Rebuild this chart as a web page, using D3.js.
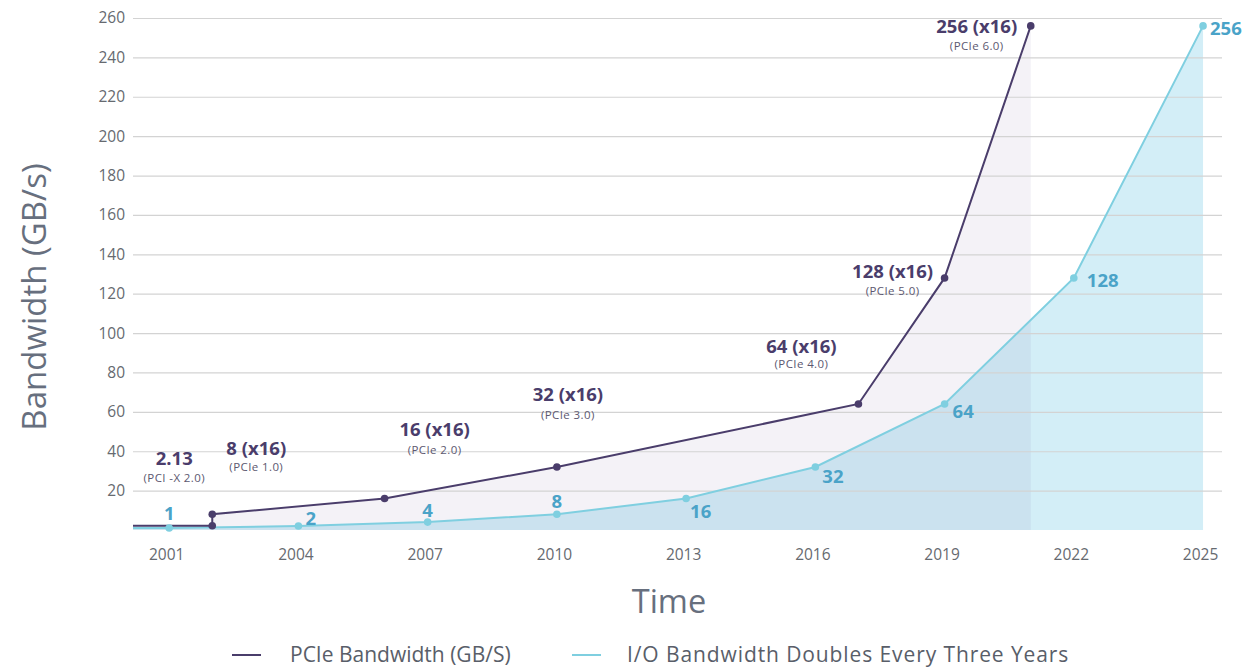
<!DOCTYPE html>
<html>
<head>
<meta charset="utf-8">
<script src="https://cdn.jsdelivr.net/npm/d3@7"></script>
<style>
  body { margin: 0; background: #ffffff; }
  svg { display: block; }
</style>
</head>
<body>
<svg id="chart" width="1249" height="668"></svg>
<script>
// ---- data ----
const xDomain = [2000.16, 2025.44];
const xTicks = [2001, 2004, 2007, 2010, 2013, 2016, 2019, 2022, 2025];
const yTicks = [20, 40, 60, 80, 100, 120, 140, 160, 180, 200, 220, 240, 260];

// PCIe x16 bandwidth by generation (line starts at the left edge of the plot)
const pcieYears  = [2000.16, 2002, 2002, 2006, 2010, 2017, 2019, 2021];
const pcieValues = [2.13,    2.13, 8,    16,   32,   64,   128,  256];
const pcieMarked = [false,   true, true, true, true, true, true, true];
const pcieLabels   = ["", "2.13", "8 (x16)", "16 (x16)", "32 (x16)", "64 (x16)", "128 (x16)", "256 (x16)"];
const pcieVersions = ["", "(PCI -X 2.0)", "(PCIe 1.0)", "(PCIe 2.0)", "(PCIe 3.0)", "(PCIe 4.0)", "(PCIe 5.0)", "(PCIe 6.0)"];

// I/O bandwidth doubling every three years
const ioYears  = [2000.16, 2001, 2004, 2007, 2010, 2013, 2016, 2019, 2022, 2025];
const ioValues = [1,       1,    2,    4,    8,    16,   32,   64,   128,  256];
const ioMarked = [false,   true, true, true, true, true, true, true, true, true];
const ioLabels = ["", "1", "2", "4", "8", "16", "32", "64", "128", "256"];

const legendLabels = ["PCIe Bandwidth (GB/S)", "I/O Bandwidth Doubles Every Three Years"];

// ---- label placement (pixel offsets from each marker) ----
const pcieLabelPos = [null,
  {dx: -38, dy: -61, sdy: -44},
  {dx: 44,  dy: -59, sdy: -43},
  {dx: 50,  dy: -62, sdy: -44},
  {dx: 11,  dy: -66, sdy: -48},
  {dx: -57, dy: -51, sdy: -36},
  {dx: -52, dy: 0,   sdy: 17},
  {dx: -54, dy: 7,   sdy: 24}
];
const ioLabelPos = [null,
  {dx: 0,  dy: -8, anchor: "middle"},
  {dx: 7,  dy: -1, anchor: "start"},
  {dx: 0,  dy: -5, anchor: "middle"},
  {dx: 0,  dy: -6, anchor: "middle"},
  {dx: 4,  dy: 20, anchor: "start"},
  {dx: 7,  dy: 16, anchor: "start"},
  {dx: 8,  dy: 14, anchor: "start"},
  {dx: 13, dy: 9,  anchor: "start"},
  {dx: 7,  dy: 9,  anchor: "start"}
];

// ---- styles ----
const C = {
  purple: "#4a3d6b",
  cyanLine: "#7fcfe0",
  cyanFill: "#d3eef7",
  cyanText: "#4aa3c8",
  grid: "#d3d3d3",
  tick: "#666a70",
  title: "#676f7e",
  legendText: "#595e69",
  subText: "#5c5870"
};
const FONT = "'Open Sans', 'Noto Sans', sans-serif";

const svg = d3.select("#chart");
svg.append("rect").attr("width", 1249).attr("height", 668).attr("fill", "#ffffff");

const x = d3.scaleLinear().domain(xDomain).range([133, 1222]);
const y = d3.scaleLinear().domain([0, 260]).range([530, 18]);

const pcie = pcieYears.map((yr, i) => ({yr, v: pcieValues[i], m: pcieMarked[i], label: pcieLabels[i], sub: pcieVersions[i], pos: pcieLabelPos[i]}));
const io = ioYears.map((yr, i) => ({yr, v: ioValues[i], m: ioMarked[i], label: ioLabels[i], pos: ioLabelPos[i]}));

// ---- filled areas ----
const area = d3.area().x(d => x(d.yr)).y0(y(0)).y1(d => y(d.v));
svg.append("path").datum(io).attr("d", area).attr("fill", C.cyanFill);
svg.append("path").datum(pcie).attr("d", area).attr("fill", "#6a4f8f").attr("fill-opacity", 0.075);

// ---- grid + y axis ----
const yAxis = d3.axisLeft(y).tickValues(yTicks).tickSize(-(1222 - 133)).tickPadding(8);
const gy = svg.append("g").attr("transform", "translate(133,0)").call(yAxis);
gy.select(".domain").remove();
gy.selectAll(".tick line").attr("stroke", C.grid).attr("stroke-width", 1.2);
gy.selectAll(".tick text").attr("fill", C.tick).attr("font-family", FONT).attr("font-size", 15.5);

// ---- x axis ----
const xAxis = d3.axisBottom(x).tickValues(xTicks).tickFormat(d3.format("d")).tickSize(0).tickPadding(19);
const gx = svg.append("g").attr("transform", `translate(0,${y(0)})`).call(xAxis);
gx.select(".domain").remove();
gx.selectAll(".tick text").attr("fill", C.tick).attr("font-family", FONT).attr("font-size", 15.5)
  .attr("dx", -3);

// ---- lines ----
const line = d3.line().x(d => x(d.yr)).y(d => y(d.v));
svg.append("path").datum(io).attr("d", line)
  .attr("fill", "none").attr("stroke", C.cyanLine).attr("stroke-width", 2);
svg.append("path").datum(pcie).attr("d", line)
  .attr("fill", "none").attr("stroke", C.purple).attr("stroke-width", 2);

// ---- markers ----
svg.append("g").selectAll("circle").data(io.filter(d => d.m)).join("circle")
  .attr("cx", d => x(d.yr)).attr("cy", d => y(d.v)).attr("r", 3.8).attr("fill", C.cyanLine);
svg.append("g").selectAll("circle").data(pcie.filter(d => d.m)).join("circle")
  .attr("cx", d => x(d.yr)).attr("cy", d => y(d.v)).attr("r", 3.8).attr("fill", C.purple);

// ---- value labels ----
const pl = svg.append("g").selectAll("g").data(pcie.filter(d => d.pos)).join("g")
  .attr("transform", d => `translate(${x(d.yr) + d.pos.dx},${y(d.v)})`);
pl.append("text").attr("y", d => d.pos.dy).attr("text-anchor", "middle")
  .attr("font-family", FONT).attr("font-weight", 700).attr("font-size", 18.5)
  .attr("fill", C.purple).text(d => d.label);
pl.append("text").attr("y", d => d.pos.sdy).attr("text-anchor", "middle")
  .attr("font-family", FONT).attr("font-size", 11.5).attr("letter-spacing", 0.4)
  .attr("fill", C.subText).text(d => d.sub);

svg.append("g").selectAll("text").data(io.filter(d => d.pos)).join("text")
  .attr("x", d => x(d.yr) + d.pos.dx).attr("y", d => y(d.v) + d.pos.dy)
  .attr("text-anchor", d => d.pos.anchor)
  .attr("font-family", FONT).attr("font-weight", 700).attr("font-size", 18.5)
  .attr("fill", C.cyanText).text(d => d.label);

// ---- axis titles ----
svg.append("text").attr("transform", "translate(46,297) rotate(-90)")
  .attr("text-anchor", "middle").attr("font-family", FONT).attr("font-size", 33)
  .attr("fill", C.title).text("Bandwidth (GB/s)");
svg.append("text").attr("x", 669).attr("y", 613).attr("text-anchor", "middle")
  .attr("font-family", FONT).attr("font-size", 32.5).attr("fill", C.title).text("Time");

// ---- legend ----
const legendColors = [C.purple, C.cyanLine];
const legendX = [232, 572];
const legendTextX = [58, 55];
const legendSpacing = [0, 0.9];
const lg = svg.append("g").selectAll("g").data(legendLabels).join("g")
  .attr("transform", (d, i) => `translate(${legendX[i]},655)`);
lg.append("line").attr("x1", 0).attr("x2", 29).attr("y1", 0).attr("y2", 0)
  .attr("stroke", (d, i) => legendColors[i]).attr("stroke-width", 2);
lg.append("text").attr("x", (d, i) => legendTextX[i]).attr("y", 7)
  .attr("letter-spacing", (d, i) => legendSpacing[i])
  .attr("font-family", FONT).attr("font-size", 21).attr("fill", C.legendText).text(d => d);
</script>
</body>
</html>
